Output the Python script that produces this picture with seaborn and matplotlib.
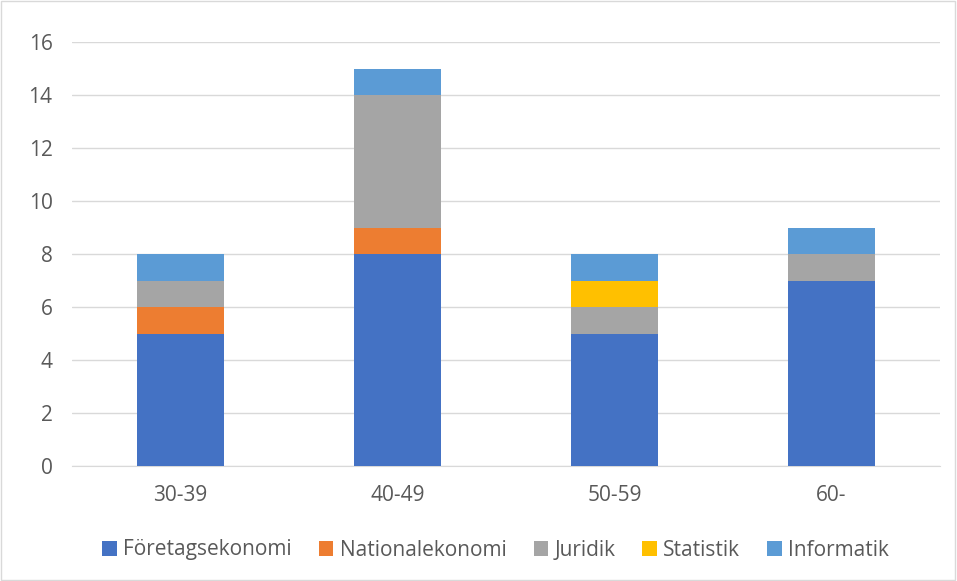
import numpy as np
import pandas as pd
import seaborn as sns
import matplotlib.pyplot as plt
from matplotlib.patches import Rectangle

sns.set_style('white')
plt.rcParams['font.family'] = ['Open Sans', 'DejaVu Sans']

# data
aldrar = ['30-39', '40-49', '50-59', '60-']
amnen = ['Företagsekonomi', 'Nationalekonomi', 'Juridik', 'Statistik', 'Informatik']
foretagsekonomi = [5, 8, 5, 7]
nationalekonomi = [1, 1, 0, 0]
juridik = [1, 5, 1, 1]
statistik = [0, 0, 1, 0]
informatik = [1, 1, 1, 1]
farger = ['#4472C4', '#ED7D31', '#A5A5A5', '#FFC000', '#5B9BD5']

serier = [foretagsekonomi, nationalekonomi, juridik, statistik, informatik]

fig = plt.figure(figsize=(9.57, 5.81), dpi=100)
ax = fig.add_axes([72/957, 1-466/581, 868/957, 424/581])

botten = np.zeros(len(aldrar))
for namn, varden, farg in zip(amnen, serier, farger):
    df = pd.DataFrame({'alder': aldrar, 'antal': varden})
    sns.barplot(data=df, x='alder', y='antal', bottom=botten, color=farg,
                width=0.4, label=namn, ax=ax, saturation=1, zorder=3,
                linewidth=0, edgecolor='none')
    botten = botten + np.array(varden)

ax.set_xlim(-0.5, 3.5)
ax.set_ylim(0, 16)
ax.set_yticks(range(0, 17, 2))
ax.yaxis.grid(True, color='#D9D9D9', linewidth=1, zorder=0)
ax.set_xlabel('')
ax.set_ylabel('')
for s in ['top', 'right', 'left']:
    ax.spines[s].set_visible(False)
ax.spines['bottom'].set_color('#D9D9D9')
ax.tick_params(axis='both', length=0, colors='#595959', labelsize=15)
ax.tick_params(axis='x', pad=14)
ax.tick_params(axis='y', pad=14)

handles, labels = ax.get_legend_handles_labels()
if ax.get_legend() is not None:
    ax.get_legend().remove()
fig.legend(handles, labels, loc='center', bbox_to_anchor=(0.518, 1-550/581),
           ncol=5, frameon=False, fontsize=15, handlelength=0.7, handleheight=0.7,
           columnspacing=1.3, handletextpad=0.3, labelcolor='#595959')

fig.patches.append(Rectangle((0.001, 0.001), 0.997, 0.997, transform=fig.transFigure,
                             fill=False, edgecolor='#D9D9D9', linewidth=1))

fig.savefig('out.png', dpi=100)
